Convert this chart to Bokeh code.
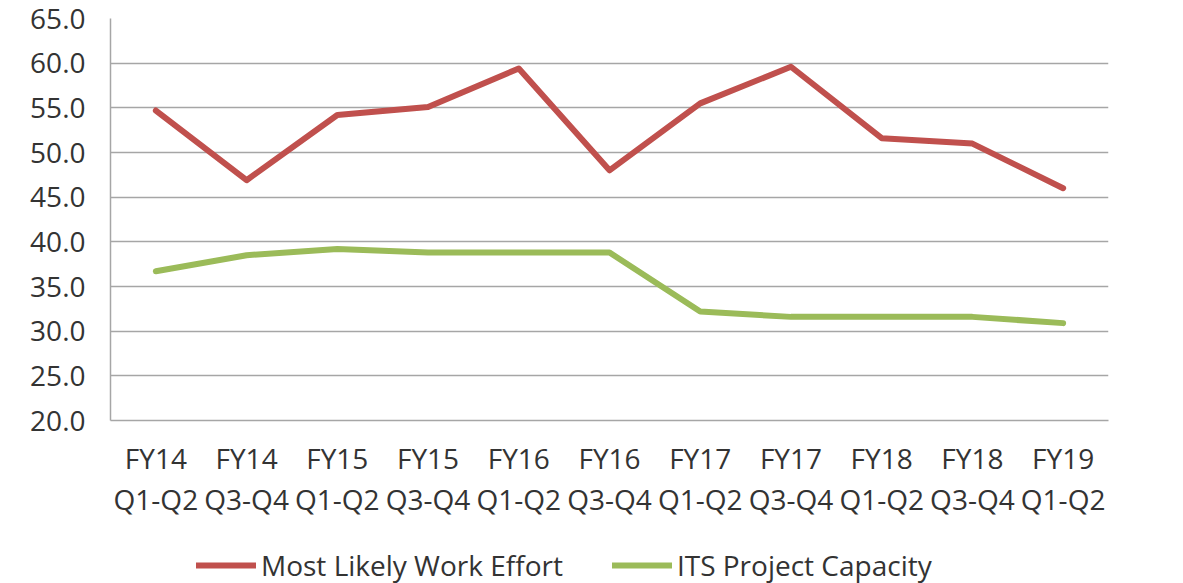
from bokeh.plotting import figure
from bokeh.layouts import column
from bokeh.models import (Legend, LegendItem, SingleIntervalTicker, NumeralTickFormatter, Range1d,
                          FixedTicker, LinearAxis)
from bokeh.embed import file_html
from bokeh.resources import INLINE

years = ["FY14", "FY14", "FY15", "FY15", "FY16", "FY16", "FY17", "FY17", "FY18", "FY18", "FY19"]
halves = ["Q1-Q2", "Q3-Q4", "Q1-Q2", "Q3-Q4", "Q1-Q2", "Q3-Q4", "Q1-Q2", "Q3-Q4", "Q1-Q2", "Q3-Q4", "Q1-Q2"]
work_effort = [54.7, 46.9, 54.2, 55.1, 59.4, 48.0, 55.5, 59.6, 51.6, 51.0, 46.0]
capacity = [36.7, 38.5, 39.2, 38.8, 38.8, 38.8, 32.2, 31.6, 31.6, 31.6, 30.9]
series_names = ["Most Likely Work Effort", "ITS Project Capacity"]
series_colors = ["#c0504d", "#9bbb59"]

idx = list(range(len(years)))

FONT = "Open Sans"
TXT = "#333333"
GRID = "#a6a6a6"

p = figure(frame_width=998, frame_height=402, x_range=Range1d(-0.5, len(years) - 0.5),
           y_range=Range1d(20, 65), output_backend="svg", toolbar_location=None,
           min_border_left=110, min_border_right=75, min_border_top=18, min_border_bottom=95)
p.outline_line_color = None
p.background_fill_color = "white"

p.line(idx, work_effort, line_color=series_colors[0], line_width=6, line_cap="round", line_join="round")
p.line(idx, capacity, line_color=series_colors[1], line_width=6, line_cap="round", line_join="round")

ax_year = p.xaxis[0]
ax_year.ticker = FixedTicker(ticks=idx)
ax_year.major_label_overrides = dict(zip(idx, years))
ax_half = LinearAxis(ticker=FixedTicker(ticks=idx), major_label_overrides=dict(zip(idx, halves)))
ax_half.axis_line_color = None
p.add_layout(ax_half, "below")

p.yaxis.ticker = SingleIntervalTicker(interval=5)
p.yaxis.formatter = NumeralTickFormatter(format="0.0")
for ax in (ax_year, ax_half, p.yaxis[0]):
    if ax is not ax_half:
        ax.axis_line_color = GRID
        ax.axis_line_width = 1.5
    ax.major_tick_line_color = None
    ax.minor_tick_line_color = None
    ax.major_tick_out = 0
    ax.major_tick_in = 0
    ax.minor_tick_out = 0
    ax.minor_tick_in = 0
    ax.major_label_text_font = FONT
    ax.major_label_text_font_size = "28px"
    ax.major_label_text_color = TXT
p.yaxis.major_label_standoff = 25
ax_year.major_label_standoff = 18
ax_half.major_label_standoff = 0

p.xgrid.grid_line_color = None
p.ygrid.grid_line_color = GRID
p.ygrid.grid_line_width = 1.5

# legend strip below the chart; its lines carry the series data but lie outside its ranges
leg = figure(width=1183, height=68, output_backend="svg", toolbar_location=None,
             x_range=Range1d(-200, -100), y_range=Range1d(-200, -100),
             x_axis_location=None, y_axis_location=None,
             min_border_left=0, min_border_right=0, min_border_top=0, min_border_bottom=0)
leg.outline_line_color = None
leg.xgrid.grid_line_color = None
leg.ygrid.grid_line_color = None
items = []
for name, col, vals in zip(series_names, series_colors, [work_effort, capacity]):
    rr = leg.line(idx, vals, line_color=col, line_width=6, line_cap="round")
    items.append(LegendItem(label=name, renderers=[rr]))

legend = Legend(items=items, orientation="horizontal", location=(86, 4),
                label_text_font=FONT, label_text_font_size="28px", label_text_color=TXT,
                glyph_width=60, glyph_height=30, label_height=30,
                label_standoff=5, spacing=49,
                border_line_color=None, background_fill_alpha=0, margin=0, padding=0)
leg.add_layout(legend, "center")

layout = column(p, leg, spacing=0)
open("out.html", "w").write(file_html(layout, INLINE))
